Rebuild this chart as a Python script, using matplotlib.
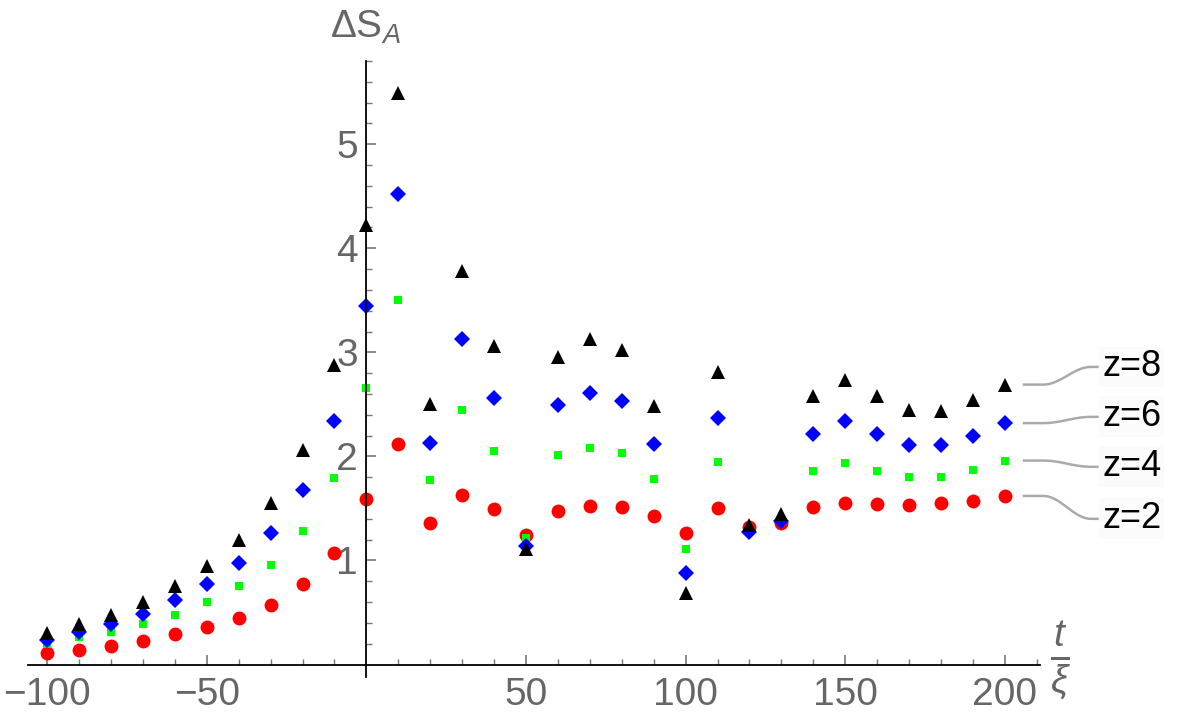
import numpy as np
import matplotlib
matplotlib.use("Agg")
import matplotlib.pyplot as plt

plt.rcParams["font.family"] = ["Liberation Sans", "DejaVu Sans"]
plt.rcParams["mathtext.fontset"] = "custom"
plt.rcParams["mathtext.rm"] = "Liberation Sans"
plt.rcParams["mathtext.it"] = "Liberation Sans:italic"

t_vals = [-100, -90, -80, -70, -60, -50, -40, -30, -20, -10, 0, 10, 20, 30, 40,
          50, 60, 70, 80, 90, 100, 110, 120, 130, 140, 150, 160, 170, 180, 190, 200]

z2 = [0.11, 0.14, 0.18, 0.23, 0.29, 0.36, 0.45, 0.57, 0.77, 1.07, 1.59, 2.12, 1.36, 1.63, 1.49,
      1.24, 1.48, 1.52, 1.51, 1.43, 1.26, 1.50, 1.32, 1.36, 1.51, 1.55, 1.54, 1.53, 1.55, 1.57, 1.62]
z4 = [0.20, 0.26, 0.31, 0.39, 0.48, 0.60, 0.75, 0.96, 1.28, 1.79, 2.66, 3.50, 1.77, 2.45, 2.05,
      1.22, 2.01, 2.08, 2.03, 1.78, 1.11, 1.95, 1.30, 1.40, 1.86, 1.94, 1.86, 1.80, 1.80, 1.87, 1.96]
z6 = [0.24, 0.31, 0.39, 0.49, 0.62, 0.77, 0.98, 1.26, 1.68, 2.34, 3.45, 4.52, 2.13, 3.13, 2.56,
      1.14, 2.49, 2.61, 2.53, 2.12, 0.88, 2.37, 1.27, 1.38, 2.22, 2.34, 2.22, 2.11, 2.11, 2.20, 2.32]
z8 = [0.30, 0.39, 0.48, 0.60, 0.75, 0.95, 1.20, 1.55, 2.06, 2.88, 4.22, 5.49, 2.50, 3.78, 3.06,
      1.11, 2.96, 3.13, 3.02, 2.48, 0.69, 2.81, 1.34, 1.45, 2.58, 2.73, 2.58, 2.45, 2.44, 2.54, 2.69]

series_labels = ["z=2", "z=4", "z=6", "z=8"]
label_y = [1.40, 1.90, 2.38, 2.86]

x_major = [-100, -50, 50, 100, 150, 200]
y_major = [1, 2, 3, 4, 5]

GRAY = "#666666"

fig = plt.figure(figsize=(12, 7.21), dpi=100)
ax = fig.add_axes([28 / 1200, 44 / 721, (1040 - 28) / 1200, (660 - 44) / 721])
ax.set_xlim(-106, 211)
ax.set_ylim(-0.12, 5.8)

ax.plot(t_vals, z2, "o", color="#ff0000", markersize=10, markeredgewidth=0, clip_on=False)
ax.plot(t_vals, z4, "s", color="#00ff00", markersize=6, markeredgewidth=0, clip_on=False)
ax.plot(t_vals, z6, "D", color="#0000ff", markersize=8.5, markeredgewidth=0, clip_on=False)
ax.plot(t_vals, z8, "^", color="black", markersize=10, markeredgewidth=0, clip_on=False)

for s in ["top", "right"]:
    ax.spines[s].set_visible(False)
ax.spines["left"].set_position(("data", 0))
ax.spines["bottom"].set_position(("data", 0))
ax.spines["left"].set_linewidth(1.3)
ax.spines["bottom"].set_linewidth(1.3)

ax.set_xticks(x_major)
ax.set_xticks([v for v in range(-100, 211, 10) if v % 50 != 0], minor=True)
ax.set_yticks(y_major)
ax.set_yticks([round(v, 1) for v in np.arange(0.2, 5.81, 0.2) if abs(v - round(v)) > 0.01], minor=True)
ax.tick_params(which="major", direction="in", length=7, width=1.2, color="#777777",
               labelsize=28, labelcolor=GRAY)
ax.tick_params(which="minor", direction="in", length=4, width=1.0, color="#777777")
ax.tick_params(axis="x", which="major", pad=9)
ax.tick_params(axis="y", which="major", pad=6)
ax.set_xticklabels([str(v).replace("-", "\u2212") for v in x_major])

fig.text(330 / 1200, 1 - 27 / 721, r"ΔS$_A$", fontsize=28, color=GRAY, va="center", ha="left")
fig.text(1060 / 1200, 1 - 661 / 721, r"$\frac{t}{\xi}$", fontsize=40, color=GRAY,
         va="center", ha="center")

# callout lines to the series labels
last_vals = [z2[-1], z4[-1], z6[-1], z8[-1]]
for v, ly, lab in zip(last_vals, label_y, series_labels):
    xs = np.linspace(206, 229, 60)
    frac = np.clip((xs - 212) / (227 - 212), 0, 1)
    ys = v + (ly - v) * (1 - np.cos(np.pi * frac)) / 2
    ax.plot(xs, ys, color="#aaaaaa", linewidth=1.8, clip_on=False)
    ax.text(230.5, ly, lab, fontsize=26, color="black", va="center", ha="left",
            bbox=dict(facecolor="#fbfbfb", edgecolor="none", pad=2))

fig.savefig("out.png", dpi=100)
